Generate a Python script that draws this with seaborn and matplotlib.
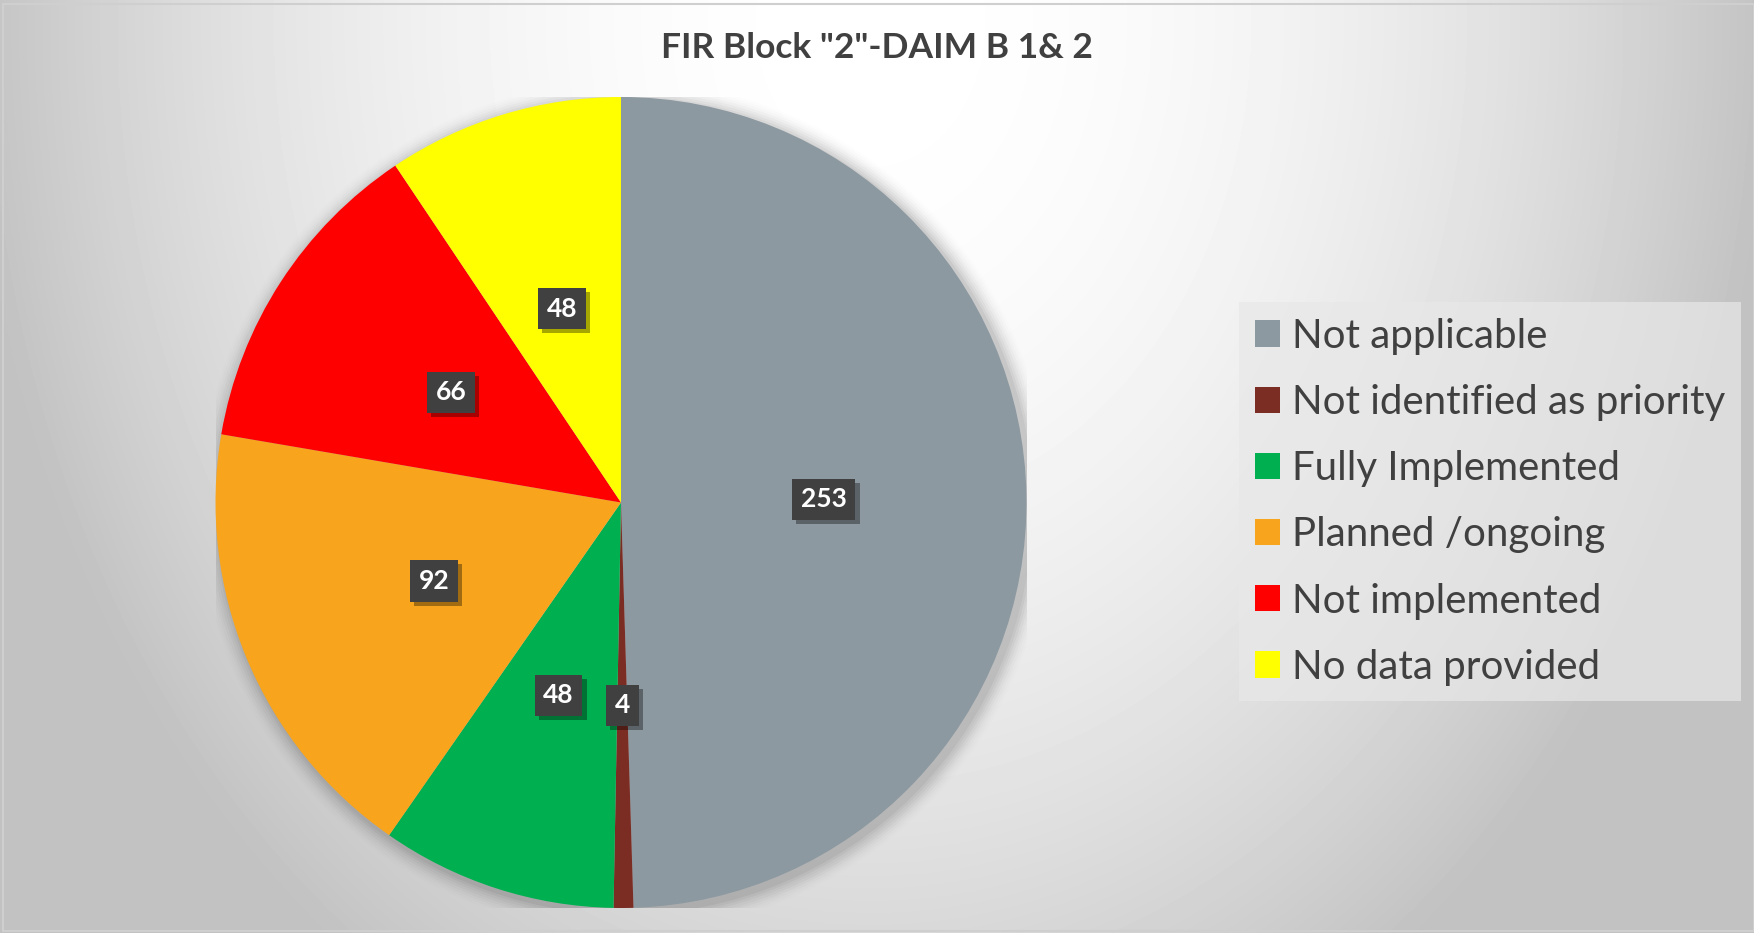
import seaborn as sns
import matplotlib
import matplotlib.pyplot as plt
import matplotlib.patheffects as pe
from matplotlib.patches import Circle, Rectangle
import numpy as np

sns.set_theme(style='white')
plt.rcParams['font.family'] = ['Lato', 'DejaVu Sans']

categories = ['Not applicable', 'Not identified as priority', 'Fully Implemented',
              'Planned /ongoing', 'Not implemented', 'No data provided']
values = [253, 4, 48, 92, 66, 48]
colors = ['#8C99A1', '#7B2C23', '#00B050', '#F8A51D', '#FF0000', '#FFFF00']
title = 'FIR Block "2"-DAIM B 1& 2'

W, H = 1754, 933
fig = plt.figure(figsize=(W / 100, H / 100), dpi=100)

# background: soft radial gradient, white near the title
bg = fig.add_axes([0, 0, 1, 1], zorder=-10)
yy, xx = np.mgrid[0:H, 0:W]
d = np.sqrt(((xx - 870) / 900.0) ** 2 + ((yy - 20) / 1150.0) ** 2)
v = 0.76 + 0.24 * (1 - np.clip(d, 0, 1) ** 2)
bg.imshow(v, cmap='gray', vmin=0, vmax=1, extent=[0, W, H, 0], aspect='auto')
bg.set_xlim(0, W)
bg.set_ylim(H, 0)
bg.axis('off')
bg.add_patch(Rectangle((3, 4), W - 3, H - 6, fill=False, edgecolor='#CFCFCF', lw=1.5))

# pie
cx, cy, r = 621, 502.5, 405.5
ax = fig.add_axes([(cx - r) / W, (H - cy - r) / H, 2 * r / W, 2 * r / H])
for k, a in enumerate(np.linspace(0.12, 0.02, 8)):
    ax.add_patch(Circle((0.01, -0.01), 1 + 0.006 * (k + 1), color='black', alpha=a * 0.35, lw=0, zorder=0))
wedges, texts = ax.pie(values, colors=sns.color_palette(colors), startangle=90, counterclock=False,
                       labels=[str(x) for x in values], labeldistance=0.5,
                       wedgeprops=dict(linewidth=0, zorder=2),
                       textprops=dict(color='white', fontsize=19, fontweight='bold', zorder=5))
for t in texts:
    t.set_ha('center')
    t.set_va('center')
    t.set_bbox(dict(boxstyle='square,pad=0.33', facecolor='#404040', edgecolor='none'))
    t.get_bbox_patch().set_path_effects([pe.SimplePatchShadow(offset=(3, -3), shadow_rgbFace='black', alpha=0.35),
                                         pe.Normal()])
ax.set_xlim(-1, 1)
ax.set_ylim(-1, 1)
ax.axis('off')

fig.text(877 / W, 1 - 48 / H, title, ha='center', va='center', fontsize=25.5, fontweight='bold', color='#404040')

leg = fig.legend(wedges, categories, loc='upper left', bbox_to_anchor=(1239 / W, 1 - 302 / H),
                 bbox_transform=fig.transFigure, fontsize=29, frameon=True, fancybox=False,
                 facecolor='#E8E8E8', edgecolor='none', framealpha=0.7,
                 handlelength=0.62, handleheight=0.62, handletextpad=0.3,
                 labelspacing=0.725, borderpad=0.39, borderaxespad=0)
for t in leg.get_texts():
    t.set_color('#404040')

plt.savefig('out.png', dpi=100)
